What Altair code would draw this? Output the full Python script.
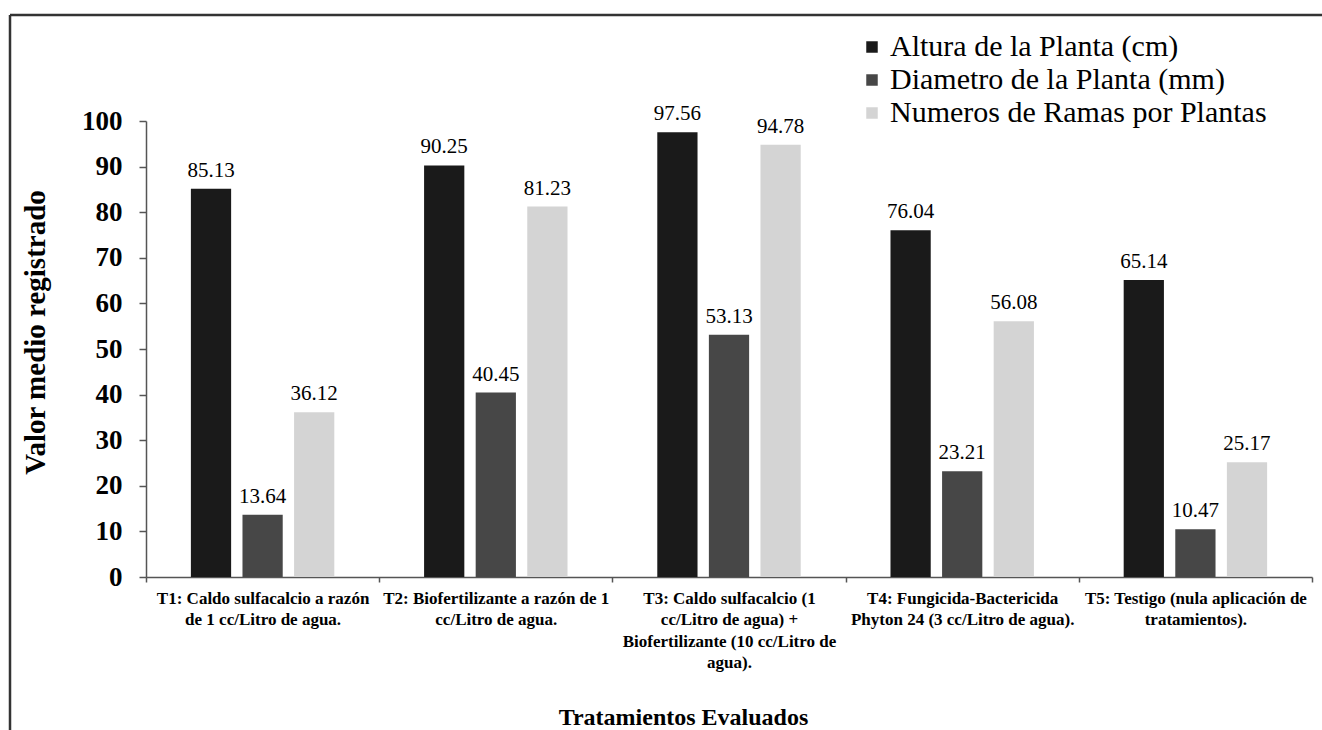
import altair as alt
import pandas as pd

# Treatments (axis labels split into lines with "|")
treatments = [
    "T1: Caldo sulfacalcio a razón|de 1 cc/Litro de agua.",
    "T2: Biofertilizante a razón de 1|cc/Litro de agua.",
    "T3: Caldo sulfacalcio (1|cc/Litro de agua) +|Biofertilizante (10 cc/Litro de|agua).",
    "T4: Fungicida-Bactericida|Phyton 24 (3 cc/Litro de agua).",
    "T5: Testigo (nula aplicación de|tratamientos).",
]
series = [
    "Altura de la Planta (cm)",
    "Diametro de la Planta (mm)",
    "Numeros de Ramas por Plantas",
]
altura = [85.13, 90.25, 97.56, 76.04, 65.14]
diametro = [13.64, 40.45, 53.13, 23.21, 10.47]
ramas = [36.12, 81.23, 94.78, 56.08, 25.17]
colors = ["#1a1a1a", "#474747", "#d4d4d4"]
y_ticks = list(range(0, 101, 10))

rows = []
for name, vals in zip(series, [altura, diametro, ramas]):
    for t, v in zip(treatments, vals):
        rows.append({"tratamiento": t, "serie": name, "valor": v})
df = pd.DataFrame(rows)

FONT = "Liberation Serif, Times New Roman, serif"
W, H = 1166, 456
PAD = {"left": 146, "top": 121, "right": 10, "bottom": 153}

x_enc = alt.X(
    "tratamiento:N",
    sort=treatments,
    scale=alt.Scale(paddingInner=0, paddingOuter=0),
    axis=alt.Axis(
        title="Tratamientos Evaluados",
        titleFont=FONT,
        titleFontSize=24,
        titleFontWeight="bold",
        titleColor="#000000",
        titleX=537,
        titleY=140,
        titleAlign="center",
        titleBaseline="middle",
        labelExpr="split(datum.label, '|')",
        labelFont=FONT,
        labelFontSize=17,
        labelFontWeight="bold",
        labelColor="#000000",
        labelAngle=0,
        labelAlign="center",
        labelBaseline="top",
        labelLineHeight=21.5,
        labelPadding=8,
        labelLimit=0,
        labelOverlap=False,
        tickBand="extent",
        tickSize=5,
        tickColor="#555555",
        tickWidth=1.5,
        domainColor="#555555",
        domainWidth=1.5,
    ),
)
xoff_enc = alt.XOffset(
    "serie:N",
    sort=series,
    scale=alt.Scale(paddingInner=0.22, paddingOuter=0.87),
)
y_enc = alt.Y(
    "valor:Q",
    scale=alt.Scale(domain=[0, 100], nice=False),
    axis=alt.Axis(
        title="Valor medio registrado",
        titleFont=FONT,
        titleFontSize=29,
        titleFontWeight="bold",
        titleColor="#000000",
        titleAngle=270,
        titleX=-111,
        titleY=211,
        titleAlign="center",
        titleBaseline="middle",
        values=y_ticks,
        labelFont=FONT,
        labelFontSize=27,
        labelFontWeight="bold",
        labelColor="#000000",
        labelPadding=17,
        tickSize=7,
        tickColor="#555555",
        tickWidth=1.5,
        domainColor="#555555",
        domainWidth=1.5,
        grid=False,
    ),
)

bars = alt.Chart(df).mark_bar(stroke=None).encode(
    x=x_enc,
    xOffset=xoff_enc,
    y=y_enc,
    color=alt.Color(
        "serie:N",
        sort=series,
        scale=alt.Scale(domain=series, range=colors),
        legend=alt.Legend(
            title=None,
            orient="none",
            legendX=711,
            legendY=-89,
            padding=0,
            symbolType="square",
            symbolSize=132,
            symbolStrokeWidth=0,
            labelFont=FONT,
            labelFontSize=30,
            labelColor="#000000",
            labelOffset=3,
            labelLimit=0,
            rowPadding=3,
        ),
    ),
)

labels = alt.Chart(df).mark_text(
    font=FONT, fontSize=21, color="#000000", baseline="alphabetic", dy=-12
).encode(
    x=alt.X("tratamiento:N", sort=treatments),
    xOffset=alt.XOffset("serie:N", sort=series),
    y=alt.Y("valor:Q"),
    text=alt.Text("valor:Q", format=".2f"),
)

# Outer frame of the figure
frame_df = pd.DataFrame({"k": [0]})
frame_top = alt.Chart(frame_df).mark_rule(color="#333333", strokeWidth=2.5).encode(
    x=alt.value(10 - PAD["left"]),
    x2=alt.value(1322 - PAD["left"]),
    y=alt.value(15 - PAD["top"]),
)
frame_left = alt.Chart(frame_df).mark_rule(color="#333333", strokeWidth=2.5).encode(
    x=alt.value(10 - PAD["left"]),
    y=alt.value(15 - PAD["top"]),
    y2=alt.value(730 - PAD["top"]),
)

chart = (
    alt.layer(bars, labels, frame_top, frame_left)
    .properties(
        width=W,
        height=H,
        autosize=alt.AutoSizeParams(type="none"),
        padding=PAD,
        background="#ffffff",
    )
    .configure_view(stroke=None)
)

chart.save("out.html", embed_options={"renderer": "svg", "actions": False})
